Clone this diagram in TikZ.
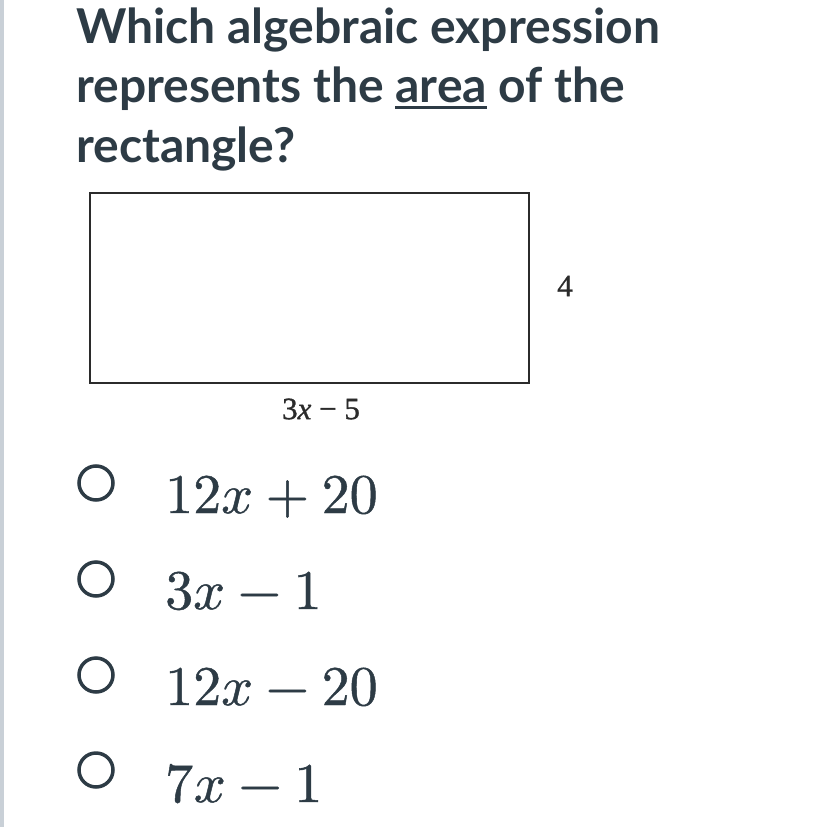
\documentclass[tikz,border=0pt]{standalone}
\usepackage{fontspec}
\usepackage{unicode-math}
\setmathfont{Latin Modern Math}[FakeBold=0.8]
\setmainfont{Lato}[BoldFont={Lato Bold}]
\newfontfamily\figfont{Liberation Serif}[FakeBold=1]
\definecolor{ink}{HTML}{2D3B45}
\definecolor{boxline}{HTML}{2B2B2B}
\definecolor{strip}{HTML}{C9D0D7}
\newcommand\ulword[1]{\setbox0\hbox{#1}\rlap{\rule[-6.5pt]{\wd0}{3pt}}\box0\relax}
\begin{document}
\begin{tikzpicture}[x=1pt,y=-1pt,
  title/.style={anchor=base west,inner sep=0pt,text=ink,font=\fontsize{48}{60}\selectfont\bfseries},
  choice/.style={anchor=base west,inner sep=0pt,text=ink,font=\fontsize{56}{60}\selectfont},
  radio/.style={draw=ink,line width=3.5pt},
  dimlabel/.style={inner sep=0pt,text=boxline,font=\fontsize{31}{34}\selectfont\figfont}]
\fill[white] (0,0) rectangle (826,827);
\useasboundingbox (0,0) rectangle (826,827);
\fill[strip] (0,0) rectangle (4,827);
\node[title] (t1) at (76,43) {Which algebraic expression};
\node[title] (t2) at (76,102) {represents the \ulword{area} of the};
\node[title] (t3) at (76,162) {rectangle?};
\draw[boxline,line width=2.5pt] (90,193) rectangle (529,383);
\node[dimlabel] (w) at (565,286) {4};
\node[dimlabel] (l) at (321,409) {3\textit{x} − 5};
\draw[radio] (96,483) circle[radius=17];
\draw[radio] (96,579) circle[radius=17];
\draw[radio] (96,675) circle[radius=17];
\draw[radio] (96,770) circle[radius=17];
\node[choice] (a) at (165,513) {$12x+20$};
\node[choice] (b) at (165,609) {$3x-1$};
\node[choice] (c) at (165,705) {$12x-20$};
\node[choice] (d) at (165,802) {$7x-1$};
\end{tikzpicture}
\end{document}
